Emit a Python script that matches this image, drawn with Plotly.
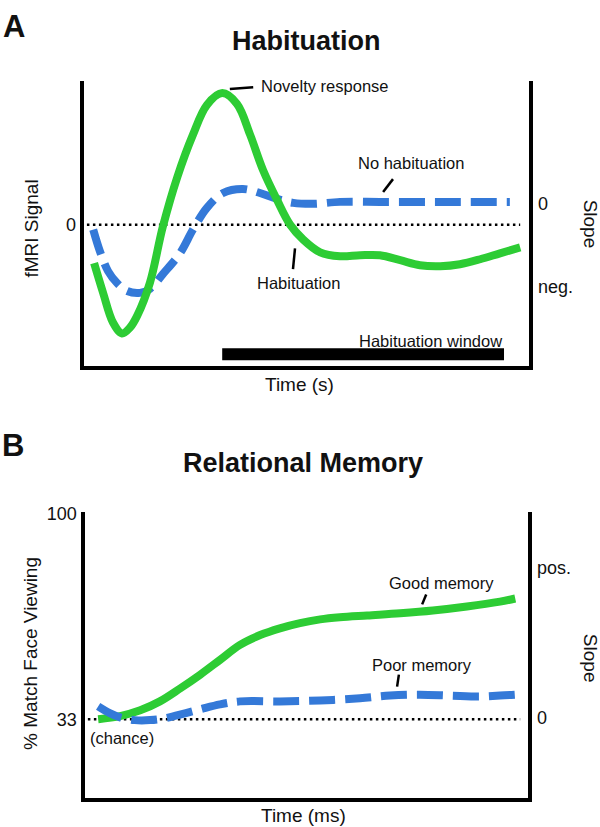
import plotly.graph_objects as go

# ---------------- Panel A: Habituation ----------------
# time (arbitrary units 0-100), fMRI signal (arbitrary units, 0 = baseline)
hab_novel_t = [2.8, 4.8, 7.0, 9.0, 10.8, 12.4, 15.2, 18.1, 21.3, 24.8, 27.9, 31.3, 34.6,
               37.5, 40.4, 43.5, 46.4, 49.3, 53.1, 57.5, 62.0, 66.4, 70.9, 75.3, 79.8,
               84.2, 88.7, 93.1, 97.6]
hab_novel_y = [-0.39, -0.69, -0.99, -1.10, -1.04, -0.92, -0.59, -0.02, 0.48, 0.91, 1.21,
               1.33, 1.22, 0.91, 0.55, 0.25, 0.00, -0.15, -0.28, -0.32, -0.31, -0.31,
               -0.36, -0.41, -0.42, -0.40, -0.35, -0.29, -0.23]
hab_nohab_t = [2.6, 4.1, 5.9, 7.9, 10.1, 13.0, 15.2, 18.1, 21.9, 24.8, 27.9, 31.5, 35.9,
               39.7, 43.5, 47.1, 51.5, 57.5, 66.4, 75.3, 84.2, 95.3]
hab_nohab_y = [-0.05, -0.27, -0.47, -0.59, -0.67, -0.69, -0.65, -0.50, -0.29, -0.05, 0.17,
               0.32, 0.36, 0.32, 0.26, 0.22, 0.21, 0.23, 0.23, 0.23, 0.23, 0.23]
hab_window = [31.3, 94.0]          # habituation window (time units)
hab_baseline = [1.2, 97.6]         # extent of dotted zero line

# ---------------- Panel B: Relational Memory ----------------
# time (arbitrary units 0-100), % match face viewing
rm_good_t = [3.5, 8.4, 12.9, 17.3, 21.8, 26.3, 30.7, 35.2, 39.7, 44.1, 48.6, 53.1, 57.5,
             63.6, 71.0, 78.3, 85.9, 93.3, 96.7]
rm_good_y = [33.0, 34.0, 35.9, 38.8, 43.0, 47.5, 52.3, 57.2, 60.4, 62.6, 64.3, 65.5, 66.2,
             66.8, 67.5, 68.4, 69.7, 71.3, 72.3]
rm_poor_t = [3.5, 6.2, 8.4, 11.7, 15.1, 18.4, 22.9, 26.3, 30.7, 35.2, 44.1, 53.1, 62.0,
             68.7, 75.4, 82.1, 88.8, 93.3, 96.7]
rm_poor_y = [37.2, 34.9, 33.6, 32.7, 32.7, 33.3, 34.9, 36.2, 37.8, 38.8, 38.8, 39.1, 39.8,
             40.7, 41.0, 40.7, 40.4, 40.7, 41.0]
rm_chance = 33
rm_baseline = [1.2, 97.8]

GREEN = "#2dcc34"
BLUE = "#3479d8"
FONT = "Liberation Sans, Arial, sans-serif"
W, H = 600, 827


def px(x):
    return x / W


def py(y):
    return 1 - y / H


fig = go.Figure()

# Panel A traces
fig.add_trace(go.Scatter(x=hab_baseline, y=[0, 0], mode="lines",
                         line=dict(color="black", width=2.5, dash="2.5px,3.5px"),
                         xaxis="x", yaxis="y", hoverinfo="skip"))
fig.add_trace(go.Scatter(x=hab_nohab_t, y=hab_nohab_y, mode="lines", line_shape="spline",
                         line=dict(color=BLUE, width=8, dash="26px,10px"),
                         xaxis="x", yaxis="y"))
fig.add_trace(go.Scatter(x=hab_novel_t, y=hab_novel_y, mode="lines", line_shape="spline",
                         line=dict(color=GREEN, width=8), xaxis="x", yaxis="y"))
fig.add_trace(go.Scatter(x=hab_window, y=[-1.31, -1.31], mode="lines",
                         line=dict(color="black", width=12), xaxis="x", yaxis="y"))

# Panel B traces
fig.add_trace(go.Scatter(x=rm_baseline, y=[rm_chance, rm_chance], mode="lines",
                         line=dict(color="black", width=2.5, dash="2.5px,3.5px"),
                         xaxis="x2", yaxis="y2", hoverinfo="skip"))
fig.add_trace(go.Scatter(x=rm_good_t, y=rm_good_y, mode="lines", line_shape="spline",
                         line=dict(color=GREEN, width=8), xaxis="x2", yaxis="y2"))
fig.add_trace(go.Scatter(x=rm_poor_t, y=rm_poor_y, mode="lines", line_shape="spline",
                         line=dict(color=BLUE, width=8, dash="26px,10px"),
                         xaxis="x2", yaxis="y2"))

axis_common = dict(showgrid=False, zeroline=False, showline=True, linecolor="black",
                   linewidth=4, ticks="", fixedrange=True)

fig.update_layout(
    width=W, height=H, showlegend=False,
    margin=dict(l=0, r=0, t=0, b=0),
    paper_bgcolor="white", plot_bgcolor="white",
    font=dict(family=FONT, color="#111", size=18),
    xaxis=dict(domain=[83.5 / W, 529 / W], range=[0.44, 99.56], showticklabels=False,
               anchor="y", mirror=False, **axis_common),
    yaxis=dict(domain=[py(361), py(73)], range=[-1.43, 1.45], anchor="x", mirror=True,
               tickvals=[0], ticktext=["0"], tickfont=dict(size=18), **axis_common),
    xaxis2=dict(domain=[84.5 / W, 528 / W], range=[0.45, 99.55], showticklabels=False,
                anchor="y2", mirror=False, **axis_common),
    yaxis2=dict(domain=[py(798), py(509)], range=[7.23, 100.33], anchor="x2", mirror=True,
                tickvals=[33, 100], ticktext=["33", "100"], tickfont=dict(size=18),
                **axis_common),
)

ann = []


def paper_text(text, x, y, size=18, angle=0, xanchor="center", bold=False):
    ann.append(dict(text=f"<b>{text}</b>" if bold else text, x=px(x), y=py(y),
                    xref="paper", yref="paper", showarrow=False, textangle=angle,
                    xanchor=xanchor, yanchor="middle",
                    font=dict(family=FONT, size=size, color="#111")))


def data_text(text, x, y, xr, yr, size=16.5, xanchor="center"):
    ann.append(dict(text=text, x=x, y=y, xref=xr, yref=yr, showarrow=False,
                    xanchor=xanchor, yanchor="middle",
                    font=dict(family=FONT, size=size, color="#111")))


# panel letters & titles
paper_text("A", 1, 18, size=31, xanchor="left", bold=True)
paper_text("Habituation", 306, 32, size=27, bold=True)
paper_text("B", 0, 441, size=31, xanchor="left", bold=True)
paper_text("Relational Memory", 303, 459, size=27, bold=True)

# axis titles
paper_text("fMRI Signal", 32, 222, size=19, angle=-90)
paper_text("Time (s)", 299, 380, size=19)
paper_text("Slope", 590, 217, size=19, angle=90)
paper_text("0", 536, 197, size=18, xanchor="left")
paper_text("neg.", 536, 281, size=18, xanchor="left")

paper_text("% Match Face Viewing", 31, 652, size=19, angle=-90)
paper_text("Time (ms)", 303, 815, size=19)
paper_text("Slope", 590, 656, size=19, angle=90)
paper_text("pos.", 535, 565, size=18, xanchor="left")
paper_text("0", 535, 717, size=18, xanchor="left")

# in-plot labels
data_text("Novelty response", 39.5, 1.40, "x", "y", xanchor="left")
data_text("No habituation", 73.2, 0.62, "x", "y")
data_text("Habituation", 48.2, -0.59, "x", "y")
data_text("Habituation window", 94.0, -1.18, "x", "y", xanchor="right")
data_text("(chance)", 8.8, 26.9, "x2", "y2")
data_text("Good memory", 80.2, 77.5, "x2", "y2")
data_text("Poor memory", 75.8, 50.7, "x2", "y2")

# leader strokes
leaders = [
    ("x", "y", 33.0, 1.37, 38.2, 1.39),
    ("x", "y", 67.1, 0.33, 69.3, 0.46),
    ("x", "y", 47.5, -0.24, 47.05, -0.45),
    ("x2", "y2", 75.9, 70.4, 76.8, 73.6),
    ("x2", "y2", 70.3, 43.6, 70.7, 47.5),
]
shapes = [dict(type="line", xref=xr, yref=yr, x0=a, y0=b, x1=c, y1=d,
               line=dict(color="black", width=2.5)) for xr, yr, a, b, c, d in leaders]

fig.update_layout(annotations=ann, shapes=shapes)
fig.write_html("out.html", config={"displayModeBar": False},
               post_script="document.body.style.margin='0';document.body.style.overflow='hidden';")
